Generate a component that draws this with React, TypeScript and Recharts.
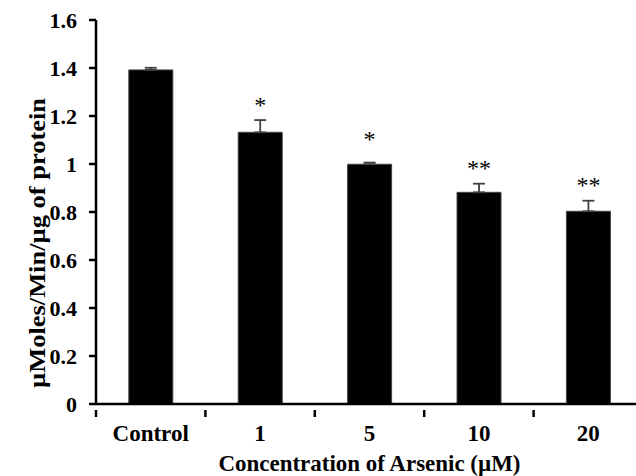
import React from 'react';
import { BarChart, Bar, XAxis, YAxis, ErrorBar, LabelList, Label } from 'recharts';

const categories = ['Control', '1', '5', '10', '20'];
const means = [1.392, 1.132, 0.999, 0.882, 0.803];
const errors = [0.009, 0.051, 0.007, 0.036, 0.044];
const marks = ['', '*', '*', '**', '**'];
const markLevels = [0, 1.2125, 1.071, 0.95, 0.879];
const yTicks = [0, 0.2, 0.4, 0.6, 0.8, 1, 1.2, 1.4, 1.6];

const data = categories.map((c, i) => ({
  name: c,
  value: means[i],
  err: [0, errors[i]],
  mark: marks[i],
  level: markLevels[i],
}));

const FONT = "'Times New Roman', 'Liberation Serif', serif";

const XTick = (props: any) => {
  const { x, y, payload } = props;
  const off = payload && payload.offset ? payload.offset : 0;
  return (
    <g>
      <line x1={x - off} x2={x - off} y1={y - 15} y2={y - 8} stroke="#000" strokeWidth={2.5} />
      <text x={x} y={y} dy="0.71em" textAnchor="middle" fontFamily={FONT} fontWeight="bold" fontSize={23} fill="#000">
        {payload.value}
      </text>
    </g>
  );
};

const MarkLabel = (props: any) => {
  const { x, y, width, height, index } = props;
  const d = data[index];
  if (!d || !d.mark) return null;
  const ppu = height / d.value;
  const by = y - (d.level - d.value) * ppu;
  return (
    <text x={x + width / 2} y={by} textAnchor="middle" fontFamily={FONT} fontWeight="normal" fontSize={24} fill="#000">
      {d.mark}
    </text>
  );
};

export default function App() {
  return (
    <div style={{ position: 'fixed', left: 0, top: 0, width: 636, height: 476, overflow: 'hidden', background: '#fff' }}>
      <BarChart
        width={660}
        height={476}
        data={data}
        margin={{ top: 20, right: 17, left: 0, bottom: 0 }}
        barCategoryGap="30%"
      >
        <XAxis
          dataKey="name"
          height={72}
          axisLine={{ stroke: '#000', strokeWidth: 2.5 }}
          tickLine={false}
          tick={<XTick />}
          tickMargin={0}
          tickSize={21}
          interval={0}
        >
          <Label
            content={(p: any) => {
              const vb = p.viewBox || { x: 96, y: 404, width: 547 };
              return (
                <text
                  x={vb.x + vb.width / 2}
                  y={vb.y + 67}
                  textAnchor="middle"
                  fontFamily={FONT}
                  fontWeight="bold"
                  fontSize={23}
                  textLength={302}
                  lengthAdjust="spacingAndGlyphs"
                  fill="#000"
                >
                  Concentration of Arsenic (µM)
                </text>
              );
            }}
          />
        </XAxis>
        <YAxis
          width={96}
          domain={[0, 1.6]}
          ticks={yTicks}
          interval={0}
          axisLine={{ stroke: '#000', strokeWidth: 2.5 }}
          tickLine={{ stroke: '#000', strokeWidth: 2.5 }}
          tickSize={7}
          tickMargin={12}
          tick={{ fontFamily: FONT, fontWeight: 'bold', fontSize: 22, fill: '#000' }}
        >
          <Label
            content={() => (
              <text
                transform="translate(37,243) rotate(-90)"
                x={0}
                y={0}
                dy="0.35em"
                textAnchor="middle"
                fontFamily={FONT}
                fontWeight="bold"
                fontSize={23}
                textLength={290}
                lengthAdjust="spacingAndGlyphs"
                fill="#000"
              >
                µMoles/Min/µg of protein
              </text>
            )}
          />
        </YAxis>
        <Bar dataKey="value" fill="#000" stroke="#444" strokeWidth={1} isAnimationActive={false}>
          <ErrorBar dataKey="err" direction="y" width={6} stroke="#404040" strokeWidth={1.8} />
          <LabelList dataKey="mark" content={<MarkLabel />} />
        </Bar>
      </BarChart>
    </div>
  );
}
